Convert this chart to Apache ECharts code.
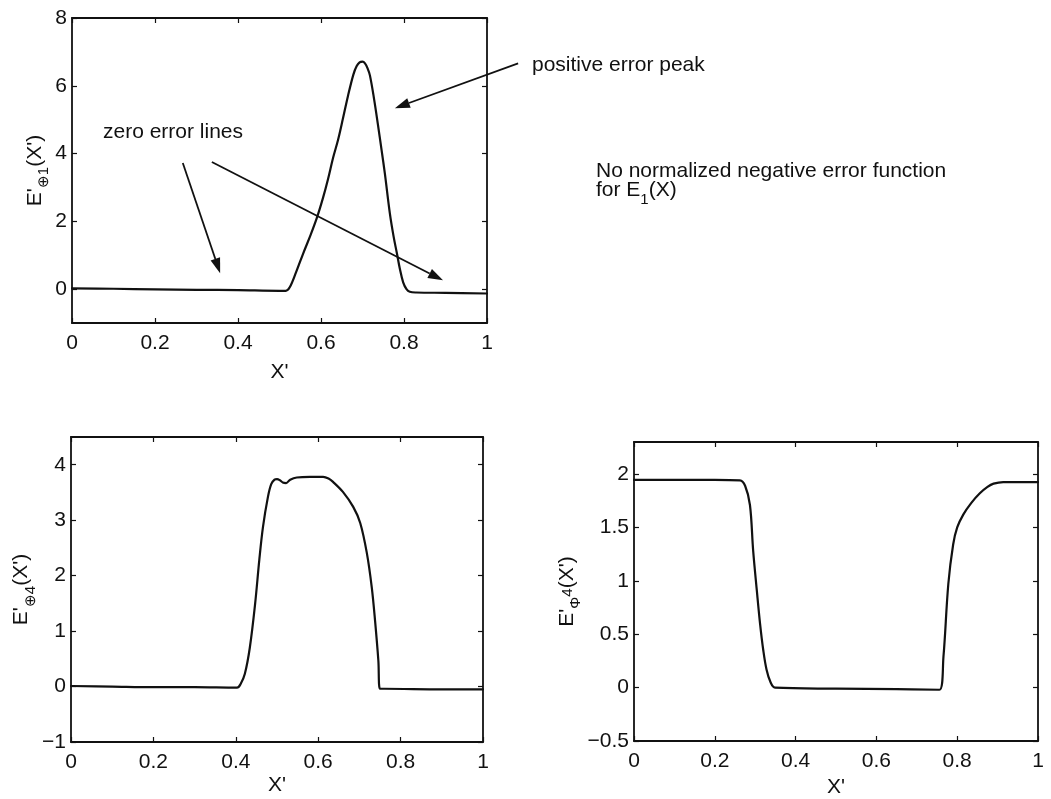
<!DOCTYPE html>
<html>
<head>
<meta charset="utf-8">
<script src="https://cdn.jsdelivr.net/npm/echarts@6/dist/echarts.min.js"></script>
<style>
  html, body { margin: 0; padding: 0; background: #ffffff; }
  #chart { width: 1051px; height: 799px; }
</style>
</head>
<body>
<div id="chart"></div>
<script>
// Normalized positive error function for E1
const xPlus1 = [0, 0.1, 0.2, 0.3, 0.4, 0.5, 0.515, 0.525, 0.54, 0.557, 0.575, 0.59, 0.605, 0.617, 0.629, 0.641, 0.653, 0.665, 0.678, 0.686, 0.693, 0.70, 0.706, 0.712, 0.718, 0.728, 0.737, 0.746, 0.754, 0.766, 0.775, 0.783, 0.79, 0.798, 0.806, 0.814, 0.83, 0.9, 1.0];
const yPlus1 = [0.02, 0.01, -0.01, -0.02, -0.03, -0.05, -0.05, 0.06, 0.5, 1.05, 1.6, 2.1, 2.7, 3.25, 3.87, 4.4, 5.04, 5.7, 6.33, 6.58, 6.69, 6.71, 6.66, 6.52, 6.3, 5.6, 4.87, 4.1, 3.4, 2.23, 1.55, 1.05, 0.6, 0.2, 0.0, -0.08, -0.1, -0.11, -0.13];

// Normalized positive error function for E4
const xPlus4 = [0, 0.1, 0.2, 0.3, 0.403, 0.412, 0.422, 0.434, 0.447, 0.457, 0.466, 0.478, 0.486, 0.494, 0.5, 0.507, 0.514, 0.522, 0.532, 0.548, 0.58, 0.612, 0.625, 0.636, 0.66, 0.685, 0.702, 0.718, 0.73, 0.738, 0.746, 0.75, 0.76, 0.9, 1.0];
const yPlus4 = [0.01, 0.0, -0.01, -0.01, -0.02, 0.05, 0.23, 0.7, 1.5, 2.28, 2.88, 3.42, 3.65, 3.73, 3.74, 3.72, 3.68, 3.67, 3.73, 3.77, 3.78, 3.78, 3.75, 3.69, 3.51, 3.24, 2.95, 2.41, 1.79, 1.19, 0.47, -0.04, -0.04, -0.05, -0.05];

// Normalized negative error function for E4
const xMinus4 = [0, 0.1, 0.2, 0.262, 0.275, 0.287, 0.295, 0.304, 0.312, 0.32, 0.328, 0.338, 0.349, 0.5, 0.65, 0.756, 0.766, 0.778, 0.79, 0.8, 0.815, 0.835, 0.856, 0.875, 0.89, 0.914, 1.0];
const yMinus4 = [1.945, 1.945, 1.945, 1.94, 1.89, 1.71, 1.28, 0.91, 0.6, 0.35, 0.17, 0.05, 0.0, -0.01, -0.015, -0.02, 0.29, 0.97, 1.34, 1.5, 1.62, 1.73, 1.82, 1.88, 1.91, 1.925, 1.925];

// Tick values
const xTicks = [0, 0.2, 0.4, 0.6, 0.8, 1];
const yTicksTop = [0, 2, 4, 6, 8];
const yTicksLeft = [-1, 0, 1, 2, 3, 4];
const yTicksRight = [-0.5, 0, 0.5, 1, 1.5, 2];

// Annotation arrows, [from, to] in data units of the upper panel
const peakArrow = [[1.075, 6.66], [0.778, 5.34]];
const zeroArrowA = [[0.267, 3.72], [0.357, 0.47]];
const zeroArrowB = [[0.337, 3.75], [0.894, 0.26]];

const FONT = "'Liberation Sans', Arial, Helvetica, sans-serif";
const INK = '#111111';

const pairs = (xs, ys) => xs.map((x, i) => [x, ys[i]]);
const fmt = v => (v < 0 ? '\u2212' + Math.abs(v) : String(v));

const grids = [
  { left: 72, top: 18, width: 415, height: 305 },
  { left: 71, top: 437, width: 412, height: 305 },
  { left: 634, top: 442, width: 404, height: 304 }
];

const axisLineStyle = { color: INK, width: 1.8 };

function xAxesFor(g, nameGap) {
  const base = {
    type: 'value', gridIndex: g, min: 0, max: 1,
    splitLine: { show: false },
    axisLine: { onZero: false, lineStyle: axisLineStyle },
    axisTick: { inside: true, length: 5, customValues: xTicks, lineStyle: { color: INK, width: 1.2 } }
  };
  return [
    Object.assign({}, base, {
      position: 'bottom',
      name: "X'", nameLocation: 'middle', nameGap: nameGap,
      nameTextStyle: { fontFamily: FONT, fontSize: 21, color: INK },
      axisLabel: { customValues: xTicks, formatter: fmt, fontFamily: FONT, fontSize: 21, color: INK, margin: 10 }
    }),
    Object.assign({}, base, { position: 'top', axisLabel: { show: false } })
  ];
}

function yAxesFor(g, min, max, ticks, name, rich, nameGap) {
  const base = {
    type: 'value', gridIndex: g, min: min, max: max,
    splitLine: { show: false },
    axisLine: { onZero: false, lineStyle: axisLineStyle },
    axisTick: { inside: true, length: 5, customValues: ticks, lineStyle: { color: INK, width: 1.2 } }
  };
  return [
    Object.assign({}, base, {
      position: 'left',
      name: name, nameLocation: 'middle', nameRotate: 90, nameGap: nameGap,
      nameTextStyle: { fontFamily: FONT, color: INK, rich: rich },
      axisLabel: { customValues: ticks, formatter: fmt, fontFamily: FONT, fontSize: 21, color: INK, margin: 5 }
    }),
    Object.assign({}, base, { position: 'right', axisLabel: { show: false } })
  ];
}

const labelRich = {
  t: { fontFamily: FONT, fontSize: 21, color: INK, verticalAlign: 'bottom', lineHeight: 24 },
  s: { fontFamily: FONT, fontSize: 15, color: INK, verticalAlign: 'bottom', lineHeight: 15, padding: [0, 0, -6, 0] },
  p: { fontFamily: FONT, fontSize: 15, color: INK, verticalAlign: 'bottom', lineHeight: 15, padding: [0, 0, 2, 0] }
};

const lineSeries = (g, data) => ({
  type: 'line', xAxisIndex: g * 2, yAxisIndex: g * 2,
  data: data, showSymbol: false, symbol: 'none',
  smooth: 0.35,
  lineStyle: { color: INK, width: 2.2, join: 'round', cap: 'round' },
  silent: true, animation: false
});

const chart = echarts.init(document.getElementById('chart'), null, { renderer: 'canvas' });

const option = {
  backgroundColor: '#ffffff',
  animation: false,
  grid: grids,
  xAxis: [].concat(xAxesFor(0, 39), xAxesFor(1, 33), xAxesFor(2, 36)),
  yAxis: [].concat(
    yAxesFor(0, -1, 8, yTicksTop, "{t|E'}{s|\u22951}{t|(X')}", labelRich, 22),
    yAxesFor(1, -1, 4.5, yTicksLeft, "{t|E'}{s|\u22954}{t|(X')}", labelRich, 38),
    yAxesFor(2, -0.5, 2.3, yTicksRight, "{t|E'}{s|\u03a6}{p|4}{t|(X')}", labelRich, 34)
  ),
  series: [
    lineSeries(0, pairs(xPlus1, yPlus1)),
    lineSeries(1, pairs(xPlus4, yPlus4)),
    lineSeries(2, pairs(xMinus4, yMinus4))
  ]
};
chart.setOption(option);

// Arrow built from two points in data units of the upper panel
function arrow(seg) {
  const a = chart.convertToPixel({ xAxisIndex: 0, yAxisIndex: 0 }, seg[0]);
  const b = chart.convertToPixel({ xAxisIndex: 0, yAxisIndex: 0 }, seg[1]);
  const dx = b[0] - a[0], dy = b[1] - a[1];
  const len = Math.sqrt(dx * dx + dy * dy);
  const ux = dx / len, uy = dy / len;
  const headL = 15, headW = 5;
  const bx = b[0] - ux * headL, by = b[1] - uy * headL;
  return [
    { type: 'line', silent: true,
      shape: { x1: a[0], y1: a[1], x2: bx, y2: by },
      style: { stroke: INK, lineWidth: 1.8 } },
    { type: 'polygon', silent: true,
      shape: { points: [[b[0], b[1]], [bx - uy * headW, by + ux * headW], [bx + uy * headW, by - ux * headW]] },
      style: { fill: INK } }
  ];
}

const textStyle = { font: "21px " + FONT, fill: INK };

chart.setOption({
  graphic: [].concat(
    arrow(peakArrow), arrow(zeroArrowA), arrow(zeroArrowB),
    [
      { type: 'text', left: 532, top: 55, silent: true,
        style: Object.assign({ text: 'positive error peak' }, textStyle) },
      { type: 'text', left: 103, top: 122, silent: true,
        style: Object.assign({ text: 'zero error lines' }, textStyle) },
      { type: 'text', left: 596, top: 161, silent: true,
        style: {
          text: '{t|No normalized negative error function}\n{t|for E}{s|1}{t|(X)}',
          rich: {
            t: { fontFamily: FONT, fontSize: 21, fill: INK, lineHeight: 19, verticalAlign: 'bottom' },
            s: { fontFamily: FONT, fontSize: 15, fill: INK, lineHeight: 19, verticalAlign: 'bottom', padding: [0, 0, -6, 0] }
          }
        } }
    ]
  )
});
</script>
</body>
</html>
